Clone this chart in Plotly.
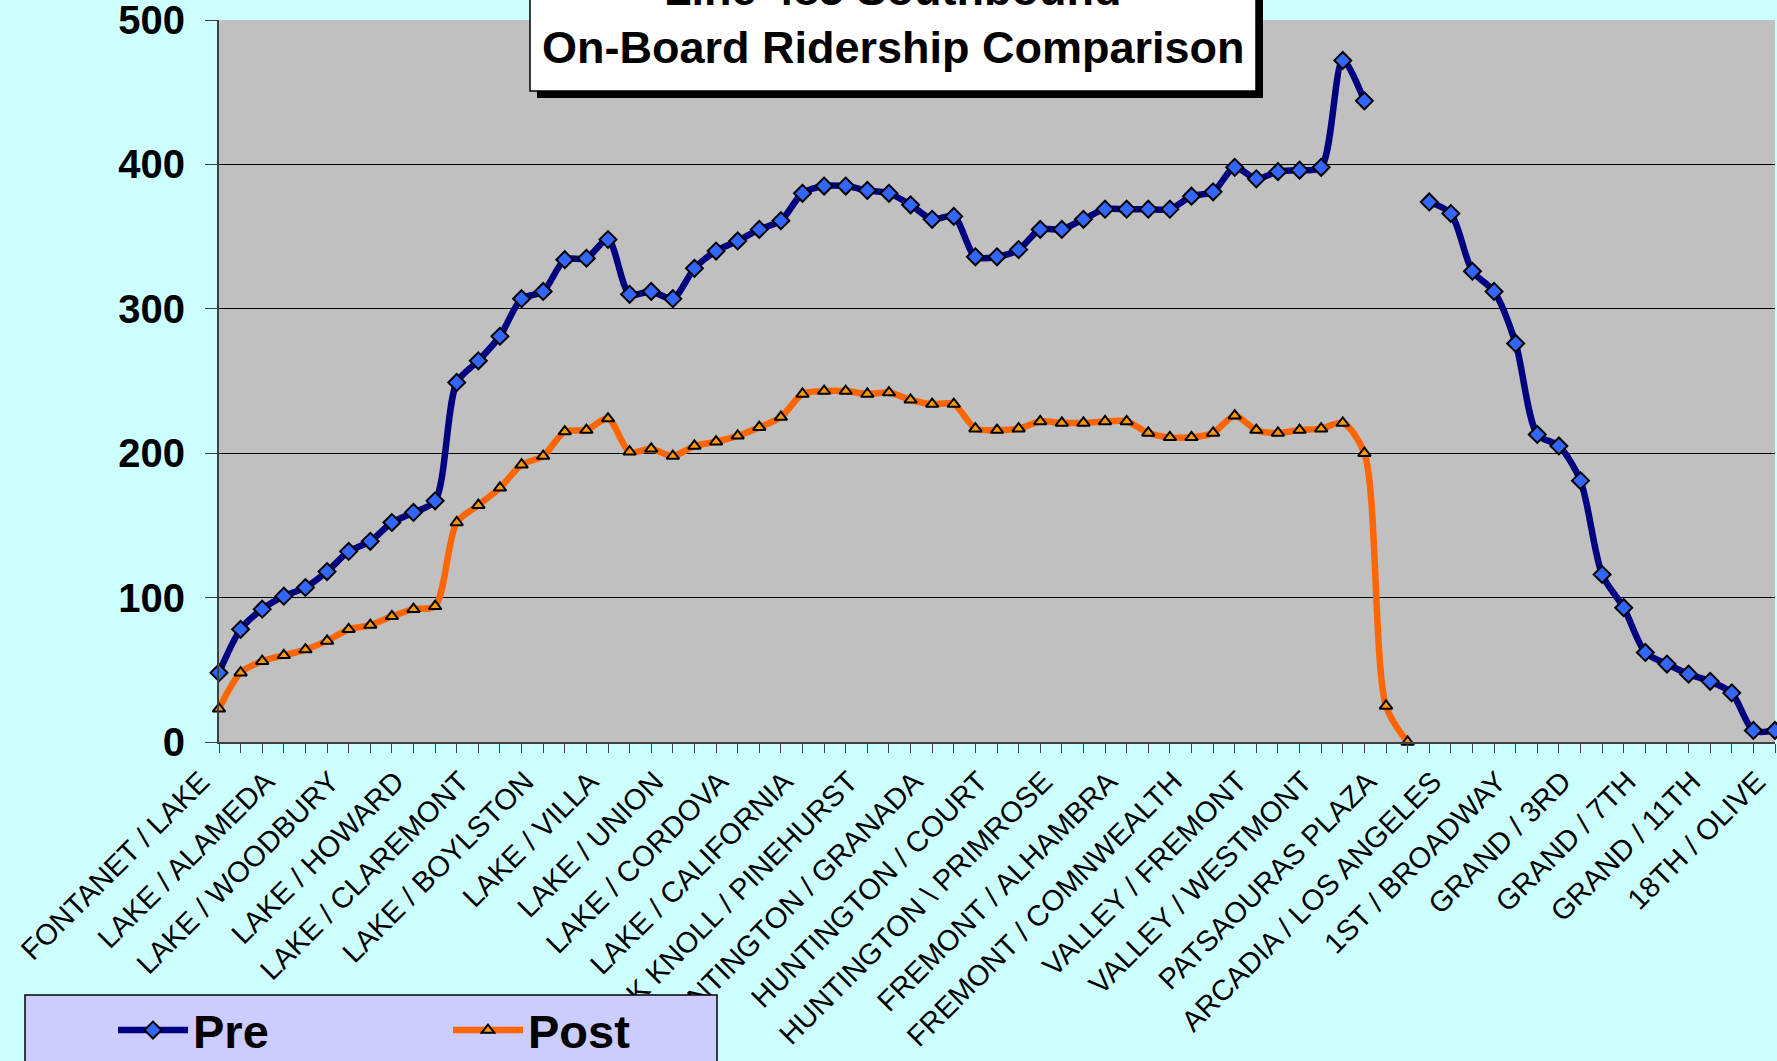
import plotly.graph_objects as go

# ---------------- data ----------------
stop_labels = [
    "FONTANET / LAKE", "LAKE / ALAMEDA", "LAKE / WOODBURY", "LAKE / HOWARD",
    "LAKE / CLAREMONT", "LAKE / BOYLSTON", "LAKE / VILLA", "LAKE / UNION",
    "LAKE / CORDOVA", "LAKE / CALIFORNIA", "OAK KNOLL / PINEHURST",
    "HUNTINGTON / GRANADA", "HUNTINGTON / COURT", "HUNTINGTON \\ PRIMROSE",
    "FREMONT / ALHAMBRA", "FREMONT / COMNWEALTH", "VALLEY / FREMONT",
    "VALLEY / WESTMONT", "PATSAOURAS PLAZA", "ARCADIA / LOS ANGELES",
    "1ST / BROADWAY", "GRAND / 3RD", "GRAND / 7TH", "GRAND / 11TH", "18TH / OLIVE",
]
label_step = 3

pre_values = [
    48, 78, 92, 101, 107, 118, 132, 139, 152, 159,
    167, 249, 264, 281, 307, 312, 334, 335, 348, 310,
    312, 307, 328, 340, 347, 355, 361, 380, 385, 385,
    382, 380, 372, 362, 364, 336, 336, 341, 355, 355,
    362, 369, 369, 369, 369, 378, 381, 398, 390, 395,
    396, 398, 472, 444, None, None, 374, 366, 326, 312,
    276, 213, 205, 181, 116, 93, 62, 54, 47, 42,
    34, 8, 8,
]
post_values = [
    23, 48, 56, 60, 64, 70, 78, 81, 87, 92,
    94, 152, 164, 176, 192, 198, 215, 216, 224, 201,
    203, 198, 205, 208, 212, 218, 225, 241, 243, 243,
    241, 242, 237, 234, 234, 217, 216, 217, 222, 221,
    221, 222, 222, 214, 211, 211, 214, 226, 216, 214,
    216, 217, 221, 200, 25, 0, None, None, None, None,
    None, None, None, None, None, None, None, None, None, None,
    None, None, None,
]
y_ticks = [0, 100, 200, 300, 400, 500]
title_lines = ["Line 485 Southbound", "On-Board Ridership Comparison"]
series_names = ["Pre", "Post"]

# ---------------- geometry helpers ----------------
W, H = 1777, 1061
ML, MR, MT, MB = 219, 2, 20, 319
PW = W - ML - MR
PH = H - MT - MB


def px_x(px):
    return (px - ML) / PW


def px_y(py):
    return (H - MB - py) / PH


FONT = "Liberation Sans, Arial, Helvetica, sans-serif"
x_idx = list(range(len(pre_values)))

fig = go.Figure()
fig.add_trace(go.Scatter(
    x=x_idx, y=pre_values, name=series_names[0], mode="lines+markers",
    line=dict(color="#000080", width=6.5, shape="spline", smoothing=0.8),
    marker=dict(symbol="diamond", size=13, color="#3366FF",
                line=dict(color="#000000", width=2)),
    connectgaps=False, cliponaxis=False,
))
fig.add_trace(go.Scatter(
    x=x_idx, y=post_values, name=series_names[1], mode="lines+markers",
    line=dict(color="#FF6600", width=6.5, shape="spline", smoothing=0.8),
    marker=dict(symbol="triangle-up", size=11, color="#FF9900",
                line=dict(color="#000000", width=2)),
    connectgaps=False, cliponaxis=False,
))

tickvals = list(range(0, len(pre_values), label_step))

fig.update_layout(
    width=W, height=H,
    margin=dict(l=ML, r=MR, t=MT, b=MB, pad=0, autoexpand=False),
    paper_bgcolor="#CCFFFF",
    plot_bgcolor="#C0C0C0",
    font=dict(family=FONT, color="#000000"),
    showlegend=True,
    legend=dict(
        orientation="h", x=px_x(113), y=px_y(993), xanchor="left", yanchor="top",
        bgcolor="rgba(0,0,0,0)", borderwidth=0,
        font=dict(family=FONT, size=47, weight="bold", color="#000000"),
        itemwidth=70, entrywidthmode="pixels", entrywidth=250,
    ),
    xaxis=dict(
        range=[0, len(pre_values) - 1],
        tickmode="array", tickvals=tickvals, ticktext=stop_labels,
        tickangle=-45, tickfont=dict(family=FONT, size=29, color="#000000"),
        ticklabelshift=-18, ticklabeloverflow="allow", automargin=False,
        ticks="outside", ticklen=9, tickwidth=1, tickcolor="#404040",
        minor=dict(dtick=1, tick0=0, ticks="outside", ticklen=9, tickwidth=1,
                   tickcolor="#404040", showgrid=False),
        showgrid=False, zeroline=False,
        showline=True, linecolor="#404040", linewidth=2,
    ),
    yaxis=dict(
        range=[0, 500], tickmode="array", tickvals=y_ticks,
        tickfont=dict(family=FONT, size=40, weight="bold", color="#000000"),
        ticks="outside", ticklen=12, tickwidth=1, tickcolor="#404040",
        ticklabelstandoff=12, ticklabeloverflow="allow", automargin=False,
        showgrid=True, gridcolor="#000000", gridwidth=1,
        zeroline=False, showline=True, linecolor="#404040", linewidth=2,
    ),
    shapes=[
        # legend box
        dict(type="rect", xref="paper", yref="paper", layer="above",
             x0=px_x(25), x1=px_x(717), y0=px_y(995), y1=px_y(1075),
             fillcolor="#CCCCFF", line=dict(color="#000000", width=1.5)),
        # title shadow
        dict(type="rect", xref="paper", yref="paper", layer="above",
             x0=px_x(537), x1=px_x(1263), y0=px_y(98), y1=px_y(-30),
             fillcolor="#000000", line=dict(width=0)),
        # title box
        dict(type="rect", xref="paper", yref="paper", layer="above",
             x0=px_x(530), x1=px_x(1256), y0=px_y(91), y1=px_y(-30),
             fillcolor="#FFFFFF", line=dict(color="#000000", width=1.5)),
    ],
    annotations=[
        dict(text=title_lines[0], xref="paper", yref="paper",
             x=px_x(893), y=px_y(-11), xanchor="center", yanchor="middle",
             showarrow=False, font=dict(family=FONT, size=45, weight="bold")),
        dict(text=title_lines[1], xref="paper", yref="paper",
             x=px_x(893), y=px_y(47.5), xanchor="center", yanchor="middle",
             showarrow=False, font=dict(family=FONT, size=45, weight="bold")),
    ],
)

fig.write_html("out.html", config={"displayModeBar": False},
               post_script="document.body.style.margin='0';")
